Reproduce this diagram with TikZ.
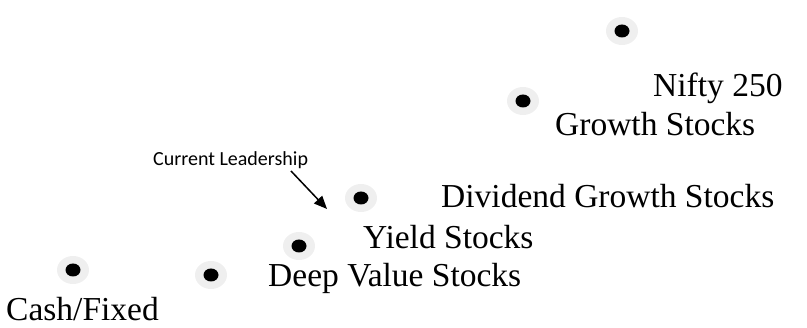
\documentclass[tikz,border=0pt]{standalone}
\usepackage{fontspec}
\setmainfont{Liberation Serif}
\newfontfamily\calfont{Carlito}
\usetikzlibrary{arrows.meta}
\definecolor{halo}{HTML}{EFEFEF}
\tikzset{
  lbl/.style={anchor=base west, inner sep=0pt, font=\fontsize{33.5}{40}\selectfont},
  note/.style={anchor=base west, inner sep=0pt, font=\calfont\fontsize{20}{24}\selectfont},
  arr/.style={line width=1.5pt, -{Triangle[length=13pt,width=11pt]}}
}
\newcommand{\mydot}[2]{%
  \fill[halo] #2 ellipse [x radius=16, y radius=14];
  \fill[black] #2 ellipse [x radius=7.5, y radius=6.5];
  \coordinate (#1) at #2;
}
\begin{document}
\begin{tikzpicture}[x=1pt,y=-1pt]
\useasboundingbox (0,0) rectangle (807,328);
\mydot{dtop}{(622,31)}
\mydot{dgrowth}{(523,101)}
\mydot{ddiv}{(361,198)}
\mydot{dyield}{(299,246)}
\mydot{dcash}{(73,270)}
\mydot{ddeep}{(211,275)}
\node[lbl] (tnifty) at (653,97) {Nifty 250};
\node[lbl] (tgrowth) at (555,136) {Growth Stocks};
\node[lbl] (tdiv) at (441,208) {Dividend Growth Stocks};
\node[lbl] (tyield) at (363,249) {Yield Stocks};
\node[lbl] (tdeep) at (268,287) {Deep Value Stocks};
\node[lbl] (tcash) at (6,321) {Cash/Fixed};
\node[note] (tlead) at (153,166) {Current Leadership};
\coordinate (astart) at (291,171);
\coordinate (aend) at (327,209);
\draw[arr] (astart) -- (aend);
\end{tikzpicture}
\end{document}
